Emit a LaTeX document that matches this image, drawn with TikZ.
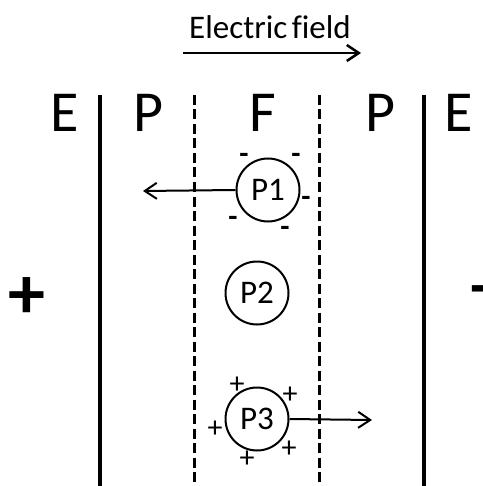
\documentclass[tikz,border=0pt]{standalone}
\usepackage{fontspec}
\setmainfont{Carlito}[Ligatures=NoCommon]
\usetikzlibrary{arrows.meta}
\begin{document}
\begin{tikzpicture}[x=1pt,y=-1pt,
  wall/.style={line width=3.5pt},
  membrane/.style={line width=3pt,dash pattern=on 10pt off 4.5pt},
  particle/.style={circle,draw,line width=2pt,minimum size=63pt,inner sep=0pt,font=\fontsize{33}{33}\selectfont},
  force/.style={line width=2pt,-{Straight Barb[length=12pt,width=16pt,line width=2pt]}},
  region/.style={anchor=base,inner sep=0pt,font=\fontsize{58}{58}\selectfont},
  negcharge/.style={inner sep=0pt,font=\fontsize{30}{30}\selectfont\bfseries},
  poscharge/.style={inner sep=0pt,font=\fontsize{30}{30}\selectfont},
  pole/.style={inner sep=0pt,font=\fontsize{74}{74}\selectfont\bfseries}]
\useasboundingbox (0,0) rectangle (482,486);
% title and field arrow
\node[anchor=base,inner sep=0pt,font=\fontsize{33}{33}\selectfont] (title) at (270,39) {Electric\hspace{-3pt} field};
\coordinate (fa) at (183,53);
\coordinate (fb) at (361,53);
\draw[line width=2.5pt,-{Straight Barb[length=12pt,width=16pt,line width=2.5pt]}] (fa) -- (fb);
% region letters
\node[region] (e1) at (65,132) {E};
\node[region] (p1l) at (148,132) {P};
\node[region] (f) at (263,132) {F};
\node[region] (p2l) at (380,132) {P};
\node[region] (e2) at (459,132) {E};
% walls
\coordinate (w1t) at (100,95); \coordinate (w1b) at (100,490);
\coordinate (w2t) at (424,95); \coordinate (w2b) at (424,490);
\coordinate (m1t) at (194,95); \coordinate (m1b) at (194,490);
\coordinate (m2t) at (319,95); \coordinate (m2b) at (319,490);
\draw[wall] (w1t) -- (w1b);
\draw[wall] (w2t) -- (w2b);
\draw[membrane] (m1t) -- (m1b);
\draw[membrane] (m2t) -- (m2b);
% poles
\node[pole] (plus) at (27,298) {+};
\node[pole,anchor=east,font=\fontsize{62}{62}\selectfont\bfseries] (minus) at (490,296) {-};
% particles
\node[particle] (P1) at (268,190) {P1};
\node[particle] (P2) at (257,293) {P2};
\node[particle] (P3) at (257,419) {P3};
% forces
\coordinate (a1) at (143,191);
\coordinate (a3) at (372,420);
\draw[force] (P1.west) -- (a1);
\draw[force] (P3.east) -- (a3);
% charges on P1
\node[negcharge] (n1) at (244,158) {-};
\node[negcharge] (n2) at (296,158) {-};
\node[negcharge] (n3) at (306,201) {-};
\node[negcharge] (n4) at (233,221) {-};
\node[negcharge] (n5) at (285,231) {-};
% charges on P3
\node[poscharge] (q1) at (237,385) {+};
\node[poscharge] (q2) at (290,395) {+};
\node[poscharge] (q3) at (215,429) {+};
\node[poscharge] (q4) at (289,449) {+};
\node[poscharge] (q5) at (247,459) {+};
\end{tikzpicture}
\end{document}
